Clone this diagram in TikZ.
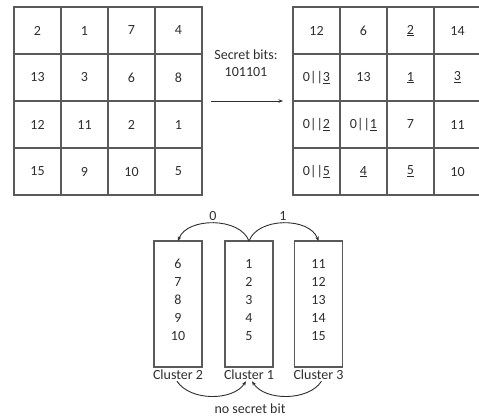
\documentclass[tikz,border=0pt]{standalone}
\usepackage{fontspec}
\setmainfont{Carlito}
\usetikzlibrary{arrows.meta,calc}
\definecolor{ink}{HTML}{2E2E2E}
\definecolor{rule}{HTML}{5A5A5A}
\begin{document}
\begin{tikzpicture}[x=1pt,y=-1pt,
  every node/.style={text=ink,font=\fontsize{14}{16}\selectfont},
  cell/.style={draw=rule,line width=1.2pt,minimum width=47pt,minimum height=47pt,inner sep=0pt,outer sep=0pt,anchor=north west},
  clusterbox/.style={draw=rule,line width=1.2pt,minimum width=48pt,minimum height=126pt,inner sep=0pt,outer sep=0pt},
  nums/.style={align=center,inner sep=0pt,font=\fontsize{14}{18}\selectfont},
  lbl/.style={inner sep=1pt,yshift=-2pt},
  arr/.style={ink,line width=0.9pt,-{Stealth[length=4.5pt,width=3.5pt]}}]
\useasboundingbox (0,0) rectangle (479,416);
\begin{scope}
\clip (0,0) rectangle (479,416);
% original grid
\foreach \r/\row in {1/{2,1,7,4},2/{13,3,6,8},3/{12,11,2,1},4/{15,9,10,5}}{
  \foreach \v [count=\c] in \row {
    \node[cell] (L\r\c) at ({14+47*(\c-1)},{7+47*(\r-1)}) {\v};
  }
}
% grid after embedding
\newcommand{\ul}[1]{\underline{#1}}
\foreach \r/\row in {1/{12,6,\ul{2},14},2/{0||\ul{3},13,\ul{1},\ul{3}},3/{0||\ul{2},0||\ul{1},7,11},4/{0||\ul{5},\ul{4},\ul{5},10}}{
  \foreach \v [count=\c] in \row {
    \node[cell] (R\r\c) at ({293+47*(\c-1)},{7+47*(\r-1)}) {\v};
  }
}
\end{scope}
% embedding arrow
\coordinate (a0) at ($(L24.south east)+(9,0)$);
\coordinate (a1) at ($(a0 -| R31.west)+(-10,0)$);
\draw[arr] (a0) -- (a1);
\node[align=center,font=\fontsize{14}{17}\selectfont] (sb) at (246,63) {Secret bits:\\101101};
% clusters
\node[clusterbox] (C2) at (178,304) {};
\node[clusterbox] (C1) at (249,304) {};
\node[clusterbox] (C3) at (318.5,304) {};
\node[nums] (T2) at ($(C2.center)+(0,-4)$) {6\\7\\8\\9\\10};
\node[nums] (T1) at ($(C1.center)+(0,-4)$) {1\\2\\3\\4\\5};
\node[nums] (T3) at ($(C3.center)+(0,-4)$) {11\\12\\13\\14\\15};
\node[lbl,anchor=north] (N2) at (C2.south) {Cluster 2};
\node[lbl,anchor=north] (N1) at (C1.south) {Cluster 1};
\node[lbl,anchor=north] (N3) at (C3.south) {Cluster 3};
% bit-driven moves between clusters
\draw[arr] (C1.north) .. controls ($(C1.north)+(-9,-24)$) and ($(C2.north)+(9,-24)$) .. (C2.north);
\draw[arr] (C1.north) .. controls ($(C1.north)+(9,-24)$) and ($(C3.north)+(-9,-24)$) .. (C3.north);
\node (b0) at (213,216) {0};
\node (b1) at (283,216) {1};
\coordinate (u2) at ($(N2.south)+(-1,0)$);
\coordinate (u1a) at ($(N1.south)+(-3,0)$);
\coordinate (u1b) at ($(N1.south)+(3,0)$);
\coordinate (u3) at ($(N3.south)+(3,0)$);
\draw[arr] (u2) .. controls ($(u2)+(13,20)$) and ($(u1a)+(-13,20)$) .. (u1a);
\draw[arr] (u3) .. controls ($(u3)+(-13,20)$) and ($(u1b)+(13,20)$) .. (u1b);
\node (ns) at (250,409) {no secret bit};
\end{tikzpicture}
\end{document}
